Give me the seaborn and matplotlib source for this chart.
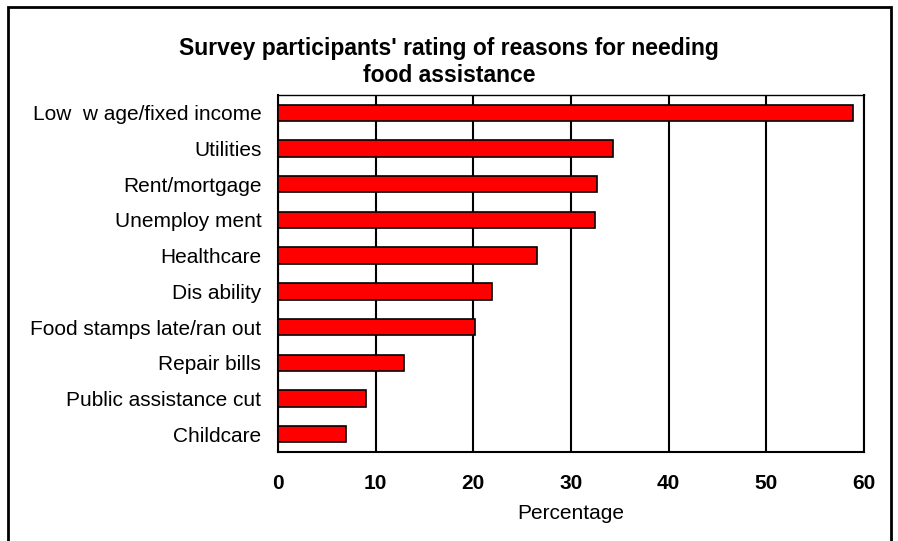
import matplotlib
matplotlib.use("Agg")
import matplotlib.pyplot as plt
import seaborn as sns
import pandas as pd
import numpy as np
from matplotlib.patches import Rectangle

categories = ["Low  w age/fixed income", "Utilities", "Rent/mortgage", "Unemploy ment",
              "Healthcare", "Dis ability", "Food stamps late/ran out", "Repair bills",
              "Public assistance cut", "Childcare"]
values = [58.9, 34.3, 32.7, 32.5, 26.5, 21.9, 20.2, 12.9, 9.0, 7.0]
xticks = [0, 10, 20, 30, 40, 50, 60]

sns.set_style("white")
plt.rcParams['font.family'] = ['Liberation Sans', 'DejaVu Sans']

df = pd.DataFrame({"Reason": categories, "Percentage": values})

fig = plt.figure(figsize=(8.98, 5.41), dpi=100)
W, H = 898, 541
ax = fig.add_axes([278/W, 1-452/H, (864-278)/W, (452-95)/H])

sns.barplot(data=df, y="Reason", x="Percentage", orient="h", color="#ff0000",
            edgecolor="black", linewidth=1.2, width=0.46, saturation=1, ax=ax, zorder=3)

ax.set_xlim(0, 60)
ax.set_ylim(len(categories)-0.5, -0.5)
ax.set_xticks(xticks)
ax.set_xticklabels([str(t) for t in xticks], fontsize=15, fontweight="bold", color="black")
ax.xaxis.grid(True, color="black", linewidth=1.5, zorder=0)
ax.set_axisbelow(True)
ax.set_yticks(range(len(categories)))
ax.set_yticklabels(categories, fontsize=15, color="black")
ax.set_yticks(np.arange(-0.5, len(categories), 1), minor=True)
ax.tick_params(axis="y", which="major", length=0, pad=12)
ax.tick_params(axis="y", which="minor", length=6, width=1.5, color="black", direction="out")
ax.tick_params(axis="x", which="major", length=5, width=1.5, color="black", direction="out", pad=11)
ax.set_ylabel("")
ax.set_xlabel("Percentage", fontsize=15, labelpad=8, color="black")
for s in ax.spines.values():
    s.set_visible(True)
    s.set_color("black")
    s.set_linewidth(1.5)
ax.spines["top"].set_linewidth(1.0)

fig.text(449/W, 1-48/H, "Survey participants' rating of reasons for needing",
         ha="center", va="center", fontsize=16.5, fontweight="bold", color="black")
fig.text(449/W, 1-76/H, "food assistance",
         ha="center", va="center", fontsize=16.5, fontweight="bold", color="black")

fig.patches.append(Rectangle((8/W, -0.02), (891-8)/W, 1-7/H+0.02, transform=fig.transFigure,
                             fill=False, edgecolor="black", linewidth=2))

fig.savefig("out.png", dpi=100)
